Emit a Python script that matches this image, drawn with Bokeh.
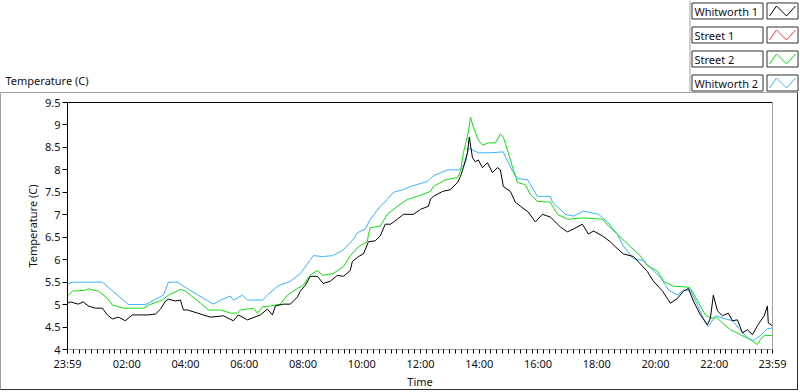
from bokeh.plotting import figure
from bokeh.layouts import column
from bokeh.models import Range1d, FixedTicker, LinearAxis, CustomJSTickFormatter
from bokeh.core.properties import value
from bokeh.embed import file_html
from bokeh.resources import INLINE

# ---------------- data (hours since midnight, temperature in C) ----------------
w1_t = [-0.02,0.08,0.35,0.52,0.69,0.93,1.17,1.34,1.51,1.72,1.95,2.19,2.53,2.74,2.98,3.15,3.32,3.42,3.66,3.83,
        3.93,4.07,4.41,4.85,5.29,5.63,5.80,6.11,6.55,6.79,6.96,7.06,7.33,7.57,7.81,7.91,8.08,8.25,8.49,8.69,
        8.93,9.17,9.38,9.61,9.68,9.89,10.06,10.23,10.46,10.63,10.80,10.98,11.21,11.42,11.76,12.00,12.27,12.34,12.44,12.75,
        13.02,13.26,13.36,13.46,13.60,13.66,13.77,13.87,13.97,14.11,14.28,14.45,14.62,14.72,14.82,15.06,15.23,15.40,15.67,15.91,
        16.15,16.42,16.76,17.00,17.20,17.51,17.72,17.89,18.19,18.46,18.63,18.90,19.25,19.48,19.72,19.93,20.24,20.51,20.75,20.95,
        21.12,21.29,21.53,21.77,21.87,21.97,22.11,22.28,22.48,22.62,22.79,22.96,23.13,23.30,23.47,23.70,23.81,23.84,23.98]
w1_v = [5.03,5.06,5.01,5.06,4.97,4.92,4.92,4.77,4.68,4.72,4.64,4.77,4.77,4.77,4.79,4.90,5.08,5.12,5.08,5.10,
        4.88,4.88,4.81,4.72,4.75,4.64,4.77,4.66,4.77,4.90,4.77,4.97,5.01,5.01,5.17,5.30,5.43,5.63,5.63,5.47,
        5.52,5.65,5.63,5.76,5.96,6.07,6.13,6.40,6.42,6.53,6.79,6.79,6.90,7.01,7.01,7.12,7.19,7.35,7.41,7.52,
        7.56,7.72,7.85,8.05,8.38,8.73,8.27,8.18,8.22,8.05,8.16,7.94,8.05,8.00,7.63,7.52,7.28,7.19,7.06,6.84,
        7.01,6.95,6.73,6.62,6.68,6.79,6.57,6.64,6.53,6.40,6.29,6.13,6.07,5.91,5.74,5.52,5.30,5.03,5.14,5.30,
        5.36,5.08,4.77,4.55,4.70,5.21,4.86,4.75,4.81,4.64,4.66,4.37,4.44,4.33,4.53,4.75,4.97,4.59,4.53]

s1_t = []
s1_v = []

s2_t = [-0.02,0.15,0.59,0.69,1.04,1.34,1.51,1.89,2.57,2.74,3.21,3.42,3.83,4.00,4.17,4.51,4.78,5.19,5.53,5.77,
        5.87,6.31,6.45,6.62,6.89,7.23,7.47,7.81,8.01,8.25,8.49,8.66,9.03,9.38,9.61,9.89,10.19,10.23,10.29,10.63,
        10.87,11.21,11.55,11.89,12.34,12.44,12.85,13.26,13.36,13.46,13.63,13.70,13.80,13.97,14.11,14.31,14.55,14.72,14.82,14.99,
        15.13,15.30,15.57,15.74,15.98,16.42,16.66,17.00,17.55,18.19,18.40,18.70,19.14,19.48,19.72,20.07,20.27,20.61,21.08,21.19,
        21.43,21.70,21.87,22.11,22.28,22.55,22.89,23.23,23.47,23.57,23.70,23.98]
s2_v = [5.19,5.30,5.32,5.35,5.30,5.14,4.99,4.92,4.92,4.99,5.10,5.21,5.34,5.30,5.21,5.03,4.88,4.88,4.81,4.81,
        4.88,4.92,4.81,4.95,4.97,5.01,5.21,5.36,5.43,5.66,5.76,5.65,5.69,5.85,6.09,6.29,6.40,6.57,6.71,6.75,
        7.01,7.19,7.34,7.41,7.52,7.63,7.78,7.83,7.96,8.38,8.84,9.17,8.95,8.66,8.55,8.60,8.60,8.80,8.73,8.38,
        8.07,7.72,7.67,7.45,7.30,7.28,7.01,6.90,6.93,6.90,6.75,6.57,6.29,6.09,5.87,5.74,5.52,5.41,5.39,5.36,
        5.08,4.77,4.70,4.70,4.59,4.44,4.33,4.22,4.11,4.22,4.31,4.31]

w2_t = [-0.02,0.15,1.17,2.06,2.64,2.98,3.25,3.42,3.76,3.83,4.61,4.95,5.19,5.53,5.63,5.94,6.11,6.62,6.79,7.13,
        7.57,7.91,8.25,8.35,8.66,9.00,9.34,9.72,9.85,10.12,10.29,10.63,10.87,11.08,11.42,11.66,12.23,12.34,12.44,12.92,
        13.36,13.53,13.63,13.77,13.97,14.31,14.82,14.89,14.99,15.16,15.30,15.64,15.84,15.98,16.42,16.49,16.76,16.93,17.20,17.55,
        18.06,18.36,18.70,18.90,19.25,19.58,19.83,20.17,20.44,20.75,20.95,21.19,21.43,21.70,21.80,22.04,22.28,22.62,22.83,23.13,
        23.33,23.57,23.81,23.98]
w2_v = [5.45,5.50,5.50,5.00,5.00,5.12,5.21,5.50,5.50,5.45,5.14,5.01,5.10,5.19,5.10,5.21,5.10,5.10,5.21,5.41,
        5.52,5.69,6.00,6.09,6.07,6.09,6.20,6.46,6.60,6.68,6.90,7.19,7.34,7.50,7.56,7.63,7.74,7.81,7.87,8.00,
        8.00,8.16,8.49,8.44,8.38,8.38,8.40,8.29,8.16,7.94,7.81,7.78,7.56,7.41,7.41,7.28,7.12,7.01,6.97,7.08,
        7.01,6.84,6.57,6.31,6.02,5.98,5.82,5.60,5.33,5.21,5.32,5.32,4.99,4.59,4.51,4.75,4.70,4.64,4.48,4.26,
        4.20,4.31,4.46,4.48]

series_names = ["Whitworth 1", "Street 1", "Street 2", "Whitworth 2"]
series_colors = ["#000000", "#ff3c3c", "#10e010", "#38b4ff"]

x_ticks = [-1/60, 2, 4, 6, 8, 10, 12, 14, 16, 18, 20, 22, 23 + 59/60]
x_tick_labels = ["23:59", "02:00", "04:00", "06:00", "08:00", "10:00", "12:00",
                 "14:00", "16:00", "18:00", "20:00", "22:00", "23:59"]
x_minor_step = 0.2   # hours between small ticks
y_ticks = [4, 4.5, 5, 5.5, 6, 6.5, 7, 7.5, 8, 8.5, 9, 9.5]
y_tick_labels = ["4", "4.5", "5", "5.5", "6", "6.5", "7", "7.5", "8", "8.5", "9", "9.5"]
y_title = "Temperature (C)"
x_title = "Time"

FONT = "Noto Sans"
FS = "11px"
TXT = "#101018"
GRAY = "#a0a0a0"
DARK = "#303030"

# ---------------- header strip: chart caption + legend ----------------
TOP_H = 92
W = 800
head = figure(width=W, height=TOP_H, output_backend="svg", toolbar_location=None,
              x_range=Range1d(0, W), y_range=Range1d(TOP_H, 0),
              min_border=0, x_axis_location=None, y_axis_location=None)
head.frame_align = False
head.outline_line_color = None
head.grid.visible = False
head.background_fill_color = "white"
head.border_fill_color = "white"

head.text(x=[5], y=[80], text=[y_title], text_font=value(FONT), text_font_size=FS,
          text_color=TXT, text_baseline="middle", text_align="left")
head.segment(x0=[689.5], y0=[0], x1=[689.5], y1=[TOP_H], line_color=GRAY, line_width=1)

n = len(series_names)
row_tops = [2.5 + 24 * i for i in range(n)]
head.quad(left=[691.5] * n, right=[762.5] * n, top=row_tops, bottom=[t + 16 for t in row_tops],
          fill_color="white", line_color=DARK, line_width=1)
head.quad(left=[766.5] * n, right=[797.5] * n, top=row_tops, bottom=[t + 16 for t in row_tops],
          fill_color="white", line_color=DARK, line_width=1)
head.text(x=[694] * n, y=[t + 8.5 for t in row_tops], text=series_names, text_font=value(FONT),
          text_font_size=FS, text_color=TXT, text_baseline="middle", text_align="left")
head.multi_line(xs=[[769, 776, 786, 795]] * n,
                ys=[[t + 13, t + 3, t + 13, t + 3] for t in row_tops],
                line_color=series_colors, line_width=1)

# ---------------- main chart ----------------
main = figure(width=798, height=298, output_backend="svg", toolbar_location=None,
              x_range=Range1d(-1/60, 23 + 59/60), y_range=Range1d(4, 9.5),
              min_border_left=66, min_border_right=27, min_border_top=9, min_border_bottom=39)
main.frame_align = False
main.background_fill_color = "white"
main.border_fill_color = "white"
main.outline_line_color = None
main.grid.visible = False
main.styles = {"border-left": "1px solid " + GRAY, "border-top": "1px solid " + GRAY,
               "border-right": "1px solid " + DARK, "border-bottom": "1px solid " + DARK}

fmt_code = """
let best = 0, d = 1e9;
for (let i = 0; i < tk.length; i++) { const e = Math.abs(tk[i] - tick); if (e < d) { d = e; best = i; } }
return d < 0.005 ? lb[best] : "";
"""

all_x_ticks = sorted(set([round(k * x_minor_step, 4) for k in range(0, 120)] + x_ticks))

xa = main.xaxis[0]
xa.ticker = FixedTicker(ticks=all_x_ticks, minor_ticks=[])
xa.formatter = CustomJSTickFormatter(args=dict(tk=x_ticks, lb=x_tick_labels), code=fmt_code)
xa.axis_label = x_title
xa.axis_label_text_font = FONT
xa.axis_label_text_font_size = FS
xa.axis_label_text_font_style = "normal"
xa.axis_label_text_color = TXT
xa.axis_label_standoff = 0
xa.major_label_text_font = FONT
xa.major_label_text_font_size = FS
xa.major_label_text_color = TXT
xa.major_label_standoff = 2
xa.axis_line_color = GRAY
xa.major_tick_line_color = "black"
xa.major_tick_in = 0
xa.major_tick_out = 4
xa.minor_tick_line_color = None

ya = main.yaxis[0]
ya.ticker = FixedTicker(ticks=y_ticks, minor_ticks=[])
ya.formatter = CustomJSTickFormatter(args=dict(tk=y_ticks, lb=y_tick_labels), code=fmt_code)
ya.axis_label = y_title
ya.axis_label_text_font = FONT
ya.axis_label_text_font_size = FS
ya.axis_label_text_font_style = "normal"
ya.axis_label_text_color = TXT
ya.axis_label_standoff = 2
ya.major_label_text_font = FONT
ya.major_label_text_font_size = FS
ya.major_label_text_color = TXT
ya.major_label_standoff = 2
ya.axis_line_color = "black"
ya.major_tick_line_color = "black"
ya.major_tick_in = 0
ya.major_tick_out = 5
ya.minor_tick_line_color = None

top_ax = LinearAxis(axis_line_color="black", major_tick_line_color=None, minor_tick_line_color=None,
                    major_label_text_font_size="0px", major_label_standoff=0, ticker=FixedTicker(ticks=[]))
main.add_layout(top_ax, "above")
right_ax = LinearAxis(axis_line_color=GRAY, major_tick_line_color=None, minor_tick_line_color=None,
                      major_label_text_font_size="0px", major_label_standoff=0, ticker=FixedTicker(ticks=[]))
main.add_layout(right_ax, "right")

main.line(s1_t, s1_v, line_color=series_colors[1], line_width=1)
main.line(w2_t, w2_v, line_color=series_colors[3], line_width=1)
main.line(s2_t, s2_v, line_color=series_colors[2], line_width=1)
main.line(w1_t, w1_v, line_color=series_colors[0], line_width=1)

p = column(head, main, spacing=0)
open("out.html", "w").write(file_html(p, INLINE))
